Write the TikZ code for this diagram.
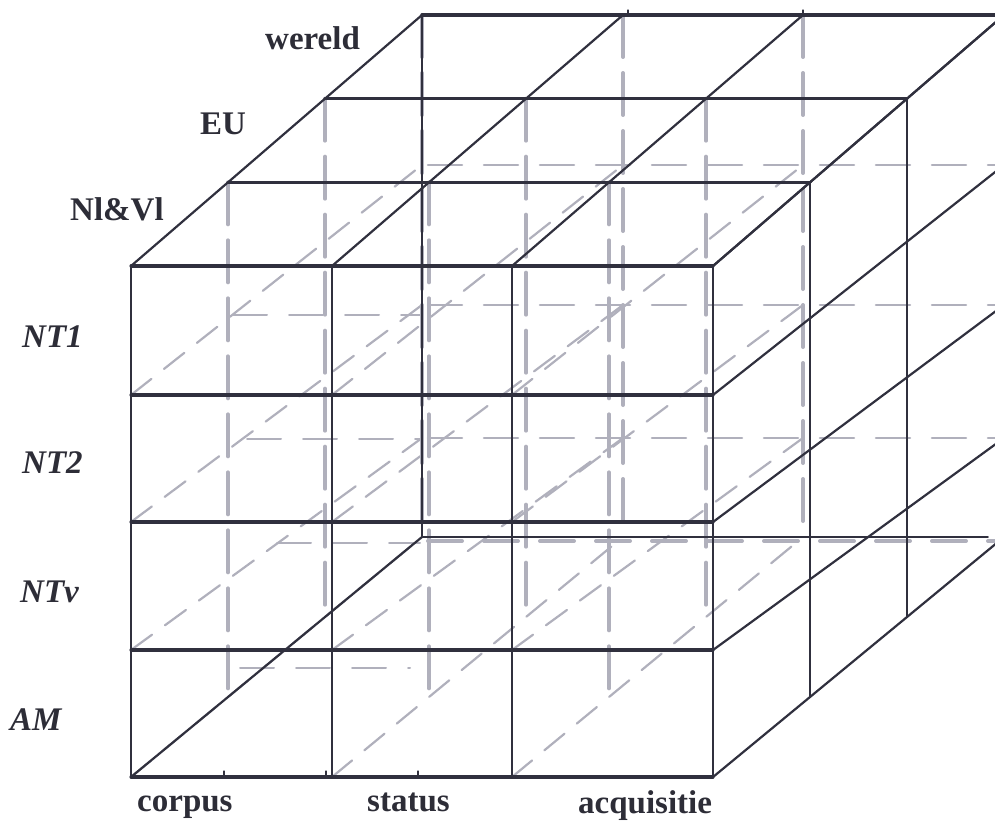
\documentclass[tikz,border=0pt]{standalone}
\usepackage{fontspec}
\setmainfont{Liberation Serif}
\definecolor{inkc}{RGB}{48,48,62}
\definecolor{pencilc}{RGB}{176,176,188}
\definecolor{labc}{RGB}{45,45,55}
\begin{document}
\begin{tikzpicture}[x=1pt,y=-1pt,
  ink/.style={draw=inkc, line width=2.2pt, line cap=round},
  inkthick/.style={ink, line width=3.1pt},
  pencil/.style={draw=pencilc, line width=2.2pt, dash pattern=on 26pt off 16pt, line cap=round},
  pencilv/.style={pencil, line width=4pt, dash pattern=on 42pt off 16pt},
  pencilh/.style={pencil, line width=2.6pt, dash pattern=on 34pt off 22pt},
  lab/.style={font=\fontsize{33}{38}\selectfont\bfseries, text=labc, inner sep=0pt, anchor=base west},
  labi/.style={lab, font=\fontsize{33}{38}\selectfont\bfseries\itshape}
]
\useasboundingbox (0,0) rectangle (995,821);
\begin{scope}
\clip (0,0) rectangle (995,821);
% ---------- hidden pencil lines ----------
% hidden verticals in the depth layers
\foreach \k in {1,2,3} {
  \foreach \i in {0,1,2} {
    \pgfmathsetmacro\xx{{131,332,512,713}[\i]+97*\k}
    \pgfmathsetmacro\yt{266+(15-266)*\k/3}
    \pgfmathsetmacro\yb{777+(537-777)*\k/3}
    \draw[pencilv] (\xx,\yt) -- (\xx,\yb);
  }
}
% hidden depth lines
\foreach \i in {0,1,2} {
  \foreach \j in {1,2,3,4} {
    \pgfmathsetmacro\xa{{131,332,512,713}[\i]}
    \pgfmathsetmacro\ya{{266,395,522,650,777}[\j]}
    \pgfmathsetmacro\yb{{15,165,305,438,537}[\j]}
    \draw[pencil] (\xa,\ya) -- (\xa+291,\yb);
  }
}
% hidden horizontals, back face
\foreach \y in {165,305,438} {
  \draw[pencilh] (428,\y) -- (1004,\y);
}
\draw[pencilh, line width=4pt] (428,541) -- (1004,541);
% hidden horizontals, first layer
\draw[pencilh, line width=2pt] (233,315) -- (420,315);
\draw[pencilh, line width=2pt] (247,439) -- (420,439);
\draw[pencilh, line width=2pt] (277,543) -- (420,543);
\draw[pencilh, line width=2pt] (240,668) -- (410,668);

% ---------- visible ink lines ----------
% front face
\foreach \y in {266,395,522,650,777} {
  \draw[inkthick] (131,\y) -- (713,\y);
}
\foreach \x in {131,332,512,713} {
  \draw[ink] (\x,266) -- (\x,777);
}
% top face
\foreach \x in {131,332,512,713} {
  \draw[ink] (\x,266) -- (\x+291,15);
}
\foreach \k in {1,2,3} {
  \pgfmathsetmacro\yt{266+(15-266)*\k/3}
  \draw[inkthick] (131+97*\k,\yt) -- (713+97*\k,\yt);
}
% right face
\foreach \j in {0,1,2,3,4} {
  \pgfmathsetmacro\ya{{266,395,522,650,777}[\j]}
  \pgfmathsetmacro\yb{{15,165,305,438,537}[\j]}
  \draw[ink] (713,\ya) -- (1004,\yb);
}
\foreach \k in {1,2,3} {
  \pgfmathsetmacro\yt{266+(15-266)*\k/3}
  \pgfmathsetmacro\yb{777+(537-777)*\k/3}
  \draw[ink] (713+97*\k,\yt) -- (713+97*\k,\yb);
}
% back edges drawn in ink
\draw[ink] (422,15) -- (422,537);
\draw[ink] (131,777) -- (422,537);
\draw[ink, line width=1.8pt] (422,537) -- (988,537);
% small ticks
\foreach \x in {224,326,418} {
  \draw[ink, line width=1.3pt] (\x,777) -- (\x,771);
}
\foreach \x in {628,803} {
  \draw[ink, line width=1.3pt] (\x,15) -- (\x,10);
}
\end{scope}
% ---------- labels ----------
\node[lab] (wereld) at (265,50) {wereld};
\node[lab] (eu) at (200,135) {EU};
\node[lab] (nlvl) at (70,220) {Nl\&Vl};
\node[labi] (nt1) at (22,347) {NT1};
\node[labi] (nt2) at (22,473) {NT2};
\node[labi] (ntv) at (20,602) {NTv};
\node[labi] (am) at (10,730) {AM};
\node[lab] (corpus) at (137,811) {corpus};
\node[lab] (status) at (367,811) {status};
\node[lab] (acq) at (578,813) {acquisitie};
\end{tikzpicture}
\end{document}
